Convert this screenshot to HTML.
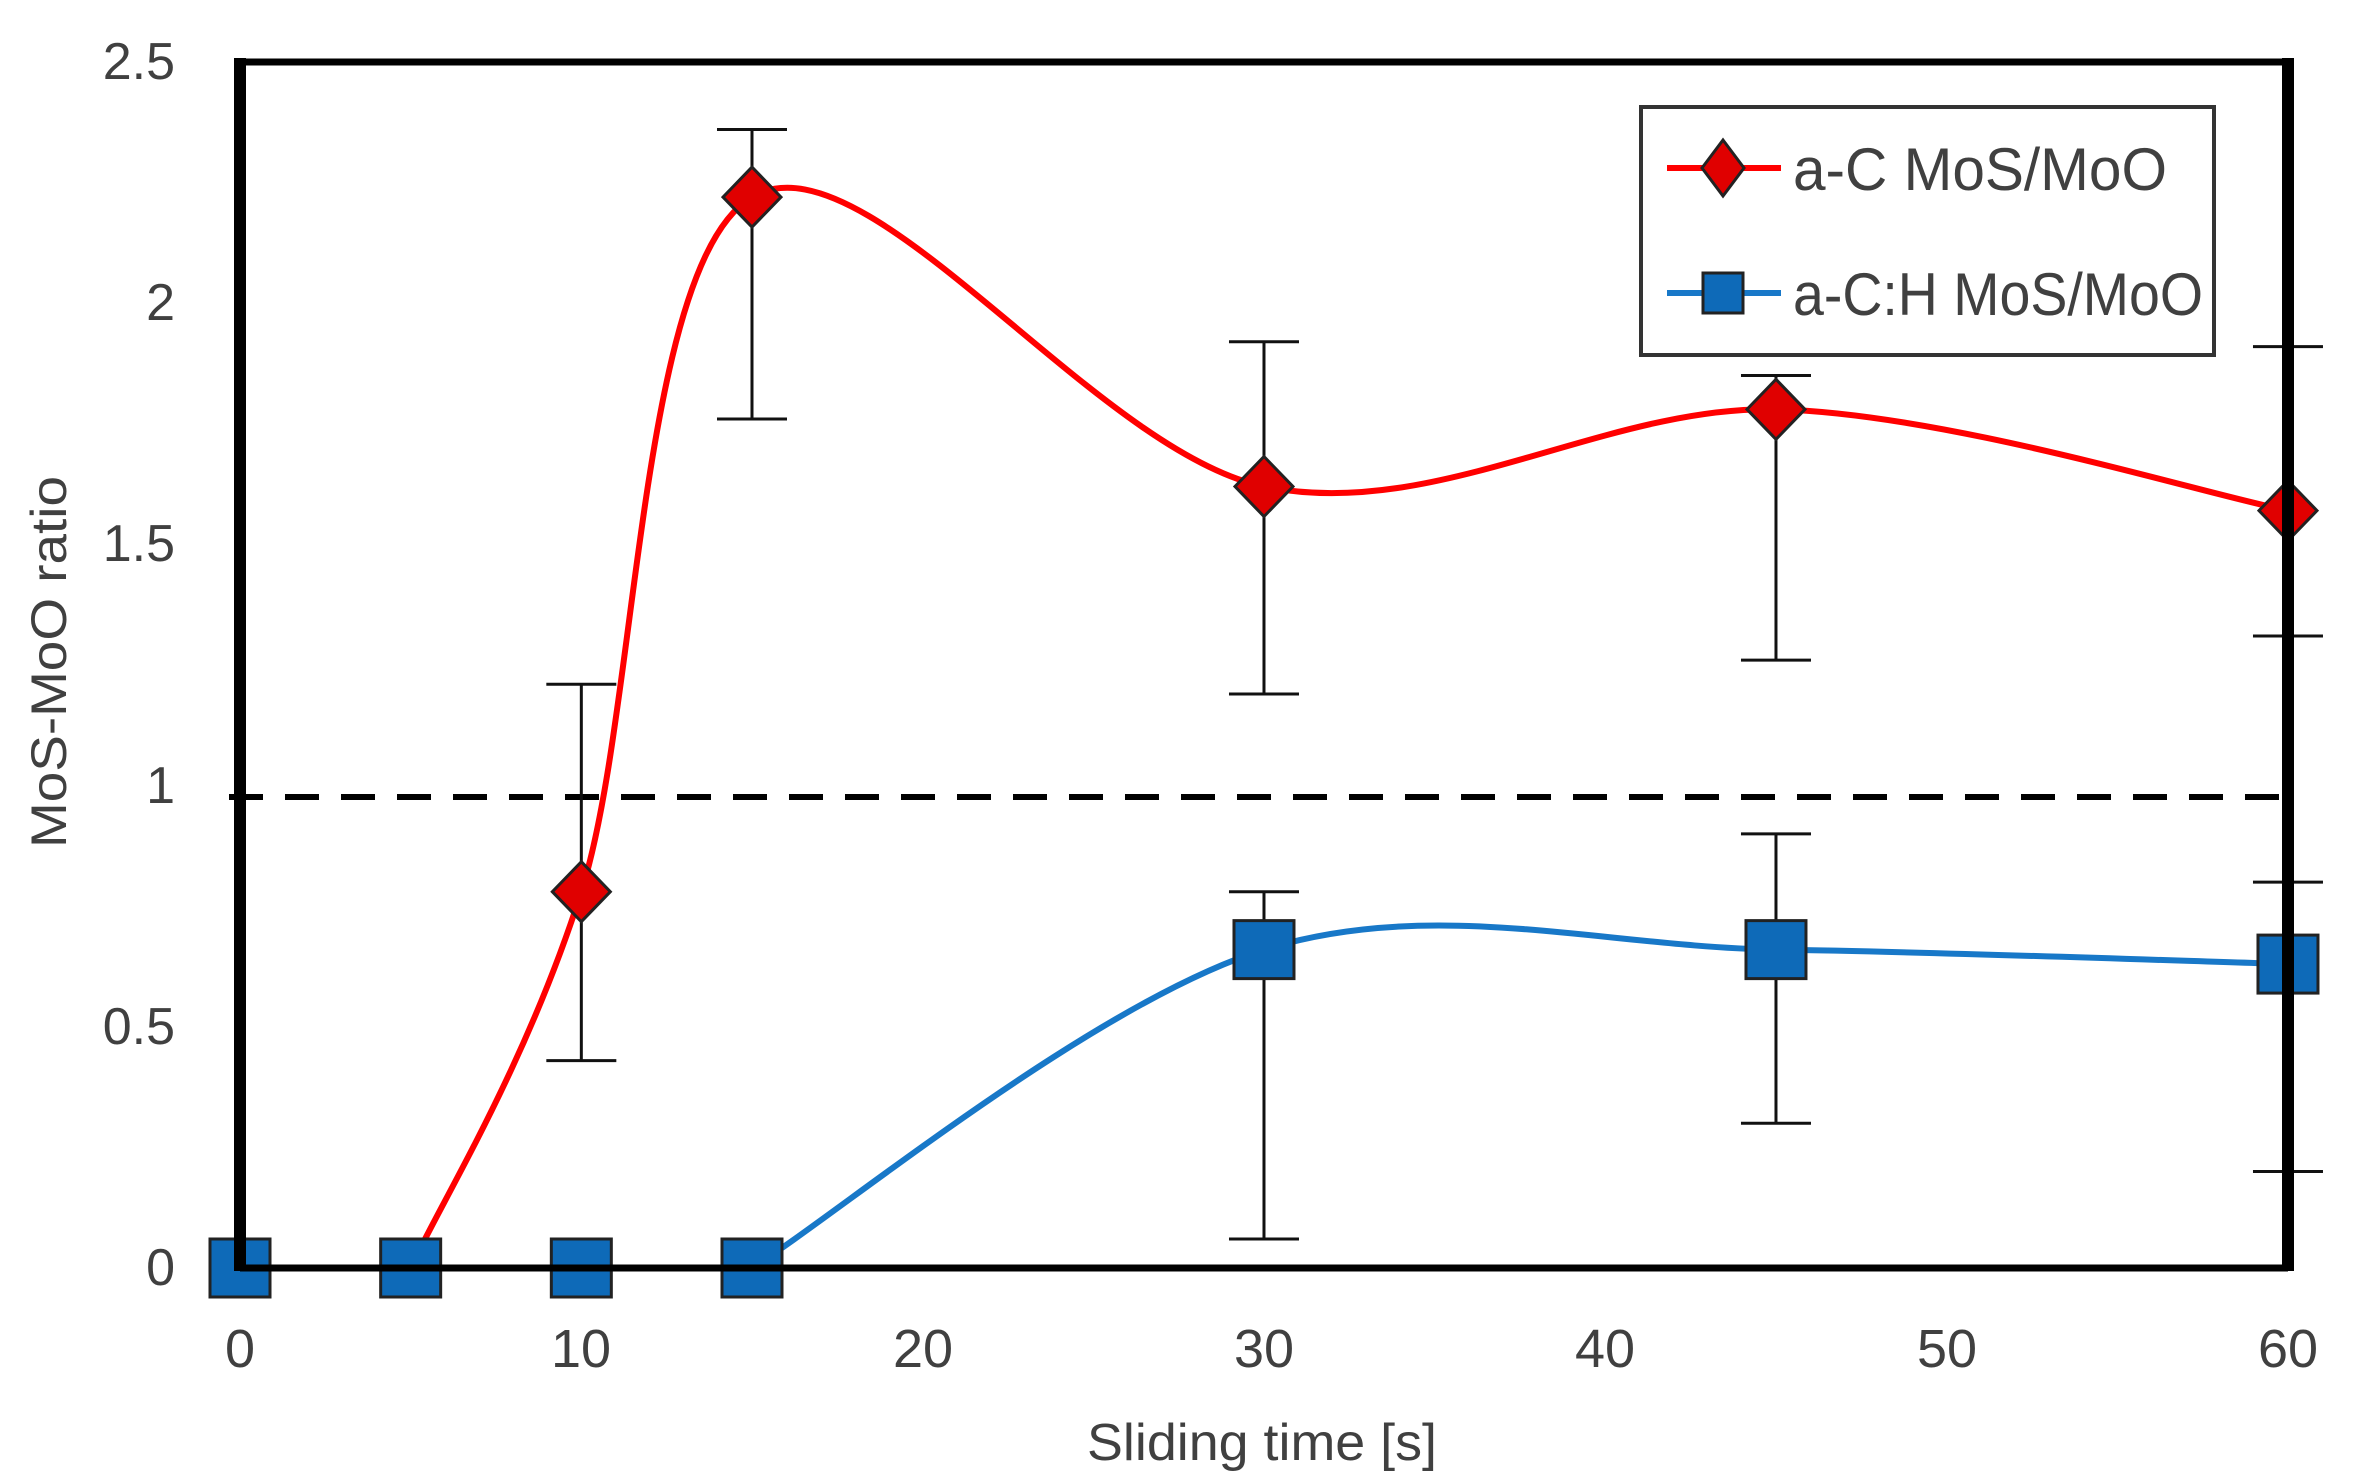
<!DOCTYPE html>
<html><head><meta charset="utf-8">
<style>
html,body{margin:0;padding:0;background:#fff;}
svg{display:block;}
text{font-family:"Liberation Sans",sans-serif;fill:#404040;}
</style></head>
<body>
<svg id="s" width="2379" height="1484" viewBox="0 0 2379 1484" xmlns="http://www.w3.org/2000/svg">
<rect width="2379" height="1484" fill="#fff"/>
<g id="plot"></g>
<g font-size="52" text-anchor="end">
<text x="175" y="1285">0</text>
<text x="175" y="1044">0.5</text>
<text x="175" y="803">1</text>
<text x="175" y="561">1.5</text>
<text x="175" y="320">2</text>
<text x="175" y="79">2.5</text>
</g>
<g font-size="54" text-anchor="middle">
<text x="240" y="1367">0</text>
<text x="581" y="1367">10</text>
<text x="923" y="1367">20</text>
<text x="1264" y="1367">30</text>
<text x="1605" y="1367">40</text>
<text x="1947" y="1367">50</text>
<text x="2288" y="1367">60</text>
</g>
<text x="1262" y="1460" font-size="52" text-anchor="middle" textLength="350" lengthAdjust="spacingAndGlyphs">Sliding time [s]</text>
<text transform="translate(66,662) rotate(-90)" font-size="50" text-anchor="middle" textLength="372" lengthAdjust="spacingAndGlyphs">MoS-MoO ratio</text>
<rect x="1641" y="107" width="573" height="248" fill="#fff" stroke="#333" stroke-width="4"/>
<line x1="1667" y1="168" x2="1781" y2="168" stroke="#ff0000" stroke-width="6"/>
<polygon points="1723,140 1744,168 1723,196 1702,168" fill="#e00000" stroke="#222" stroke-width="3"/>
<text x="1793" y="190" font-size="60" textLength="374" lengthAdjust="spacingAndGlyphs">a-C  MoS/MoO</text>
<line x1="1667" y1="293" x2="1781" y2="293" stroke="#1878c8" stroke-width="6"/>
<rect x="1703" y="273" width="40" height="40" fill="#0e6ab8" stroke="#222" stroke-width="3"/>
<text x="1793" y="315" font-size="60" textLength="410" lengthAdjust="spacingAndGlyphs">a-C:H MoS/MoO</text>
</svg>
<script>
(function(){
var X=function(v){return 240+v*34.133;}, Y=function(v){return 1268-v*482.4;};
var g=document.getElementById('plot'), out='';
function path(pts){
  var P=pts.map(function(p){return [X(p[0]),Y(p[1])];});
  var d='M'+P[0][0]+','+P[0][1];
  for(var i=0;i<P.length-1;i++){
    var p0=P[i-1]||P[i], p1=P[i], p2=P[i+1], p3=P[i+2]||P[i+1];
    var c1=[p1[0]+(p2[0]-p0[0])/6, p1[1]+(p2[1]-p0[1])/6];
    var c2=[p2[0]-(p3[0]-p1[0])/6, p2[1]-(p3[1]-p1[1])/6];
    d+=' C'+c1[0]+','+c1[1]+' '+c2[0]+','+c2[1]+' '+p2[0]+','+p2[1];
  }
  return d;
}
var red=[[0,0],[5,0],[10,0.78],[15,2.22],[30,1.62],[45,1.78],[60,1.57]];
var blue=[[0,0],[5,0],[10,0],[15,0],[30,0.66],[45,0.66],[60,0.63]];
out+='<line x1="229" y1="797" x2="2290" y2="797" stroke="#000" stroke-width="6" stroke-dasharray="34,22"/>';
out+='<line x1="'+X(0)+'" y1="'+Y(0)+'" x2="'+X(5)+'" y2="'+Y(0)+'" stroke="#ff0000" stroke-width="6"/>';
out+='<path d="'+path(red.slice(1))+'" fill="none" stroke="#ff0000" stroke-width="6"/>';
out+='<line x1="'+X(0)+'" y1="'+Y(0)+'" x2="'+X(15)+'" y2="'+Y(0)+'" stroke="#1878c8" stroke-width="6"/>';
out+='<path d="'+path(blue.slice(3))+'" fill="none" stroke="#1878c8" stroke-width="6"/>';
var eb=[[10,0.43,1.21],[15,1.76,2.36],[30,1.19,1.92],[45,1.26,1.85],[60,1.31,1.91],[30,0.06,0.78],[45,0.3,0.9],[60,0.2,0.8]];
eb.forEach(function(e){var x=X(e[0]),a=Y(e[1]),b=Y(e[2]);
 out+='<line x1="'+x+'" y1="'+a+'" x2="'+x+'" y2="'+b+'" stroke="#111" stroke-width="3"/>';
 out+='<line x1="'+(x-35)+'" y1="'+a+'" x2="'+(x+35)+'" y2="'+a+'" stroke="#111" stroke-width="3"/>';
 out+='<line x1="'+(x-35)+'" y1="'+b+'" x2="'+(x+35)+'" y2="'+b+'" stroke="#111" stroke-width="3"/>';});
red.slice(2).forEach(function(p){var x=X(p[0]),y=Y(p[1]);
 out+='<polygon points="'+x+','+(y-30)+' '+(x+29)+','+y+' '+x+','+(y+30)+' '+(x-29)+','+y+'" fill="#e00000" stroke="#222" stroke-width="3"/>';});
blue.forEach(function(p){var x=X(p[0]),y=Y(p[1]);
 out+='<rect x="'+(x-30)+'" y="'+(y-29)+'" width="60" height="58" fill="#0e6ab8" stroke="#222" stroke-width="3"/>';});
out+='<line x1="240" y1="62" x2="2288" y2="62" stroke="#000" stroke-width="7"/>';
out+='<line x1="240" y1="1268" x2="2288" y2="1268" stroke="#000" stroke-width="7"/>';
out+='<line x1="240" y1="58" x2="240" y2="1271" stroke="#000" stroke-width="12"/>';
out+='<line x1="2288" y1="58" x2="2288" y2="1271" stroke="#000" stroke-width="12"/>';
g.innerHTML=out;
})();
</script>
</body></html>
